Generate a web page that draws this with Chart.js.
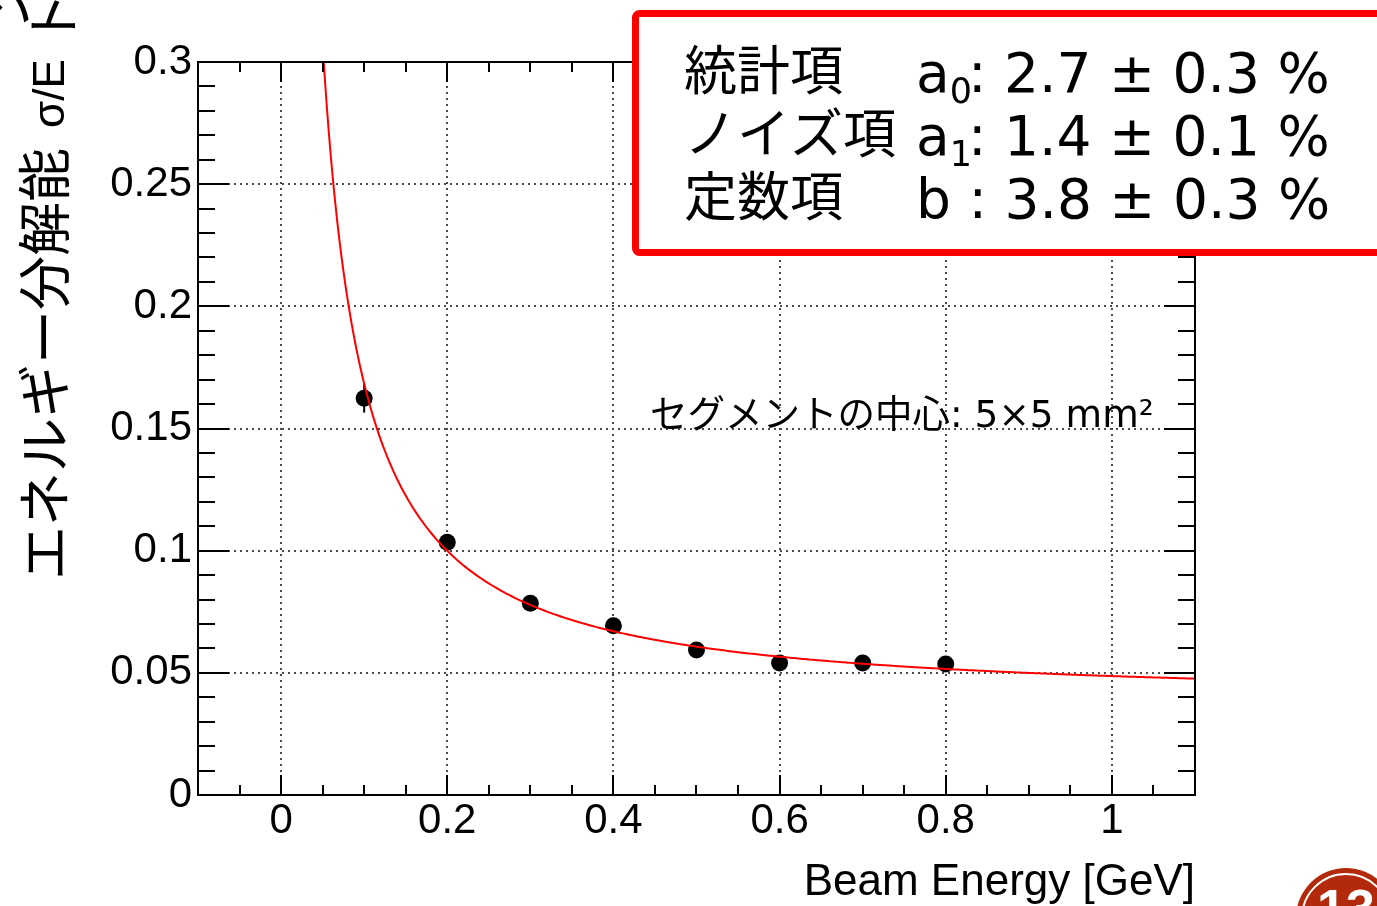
<!DOCTYPE html>
<html lang="ja">
<head>
<meta charset="utf-8">
<title>エネルギー分解能</title>
<script src="https://cdn.jsdelivr.net/npm/chart.js@4.4.1/dist/chart.umd.min.js"></script>
<style>
  html, body { margin: 0; padding: 0; background: #fff; }
  #wrap { width: 1377px; height: 906px; position: relative; overflow: hidden; }
  canvas { display: block; }
</style>
</head>
<body>
<div id="wrap"><canvas id="c" width="1377" height="906"></canvas></div>
<script>
// Measured energy resolution vs. beam energy
const energies      = [0.1, 0.2, 0.3, 0.4, 0.5, 0.6, 0.7, 0.8];          // GeV
const resolution    = [0.1624, 0.1034, 0.0785, 0.0693, 0.0593, 0.0540, 0.0540, 0.0536];
const resolutionErr = [0.0059, 0.0025, 0.0020, 0.0018, 0.0015, 0.0015, 0.0015, 0.0015];

// Fit parameters in percent: [value, error]
const statTerm  = [2.7, 0.3];   // a0 (stochastic)
const noiseTerm = [1.4, 0.1];   // a1 (noise)
const constTerm = [3.8, 0.3];   // b  (constant)

// Axis ticks
const xTickValues = [0, 0.2, 0.4, 0.6, 0.8, 1];
const xTickLabels = ['0', '0.2', '0.4', '0.6', '0.8', '1'];
const yTickValues = [0, 0.05, 0.1, 0.15, 0.2, 0.25, 0.3];
const yTickLabels = ['0', '0.05', '0.1', '0.15', '0.2', '0.25', '0.3'];

// Energies at which the fit function is evaluated
const fitEnergies = [];
for (let e = 0.045; e <= 1.1001; e += 0.0025) fitEnergies.push(+e.toFixed(4));

// sigma/E = sqrt( (a0/sqrt(E))^2 + (a1/E)^2 + b^2 )
function fitResolution(E) {
  const a0 = statTerm[0] / 100, a1 = noiseTerm[0] / 100, b = constTerm[0] / 100;
  return Math.sqrt(a0 * a0 / E + (a1 / E) * (a1 / E) + b * b);
}

const pointData = energies.map((e, i) => ({ x: e, y: resolution[i] }));
const curveData = fitEnergies.map(e => ({ x: e, y: fitResolution(e) }));

const LATIN = "'Liberation Sans', Arial, sans-serif";
const JP = "'Noto Sans CJK JP', sans-serif";
const BOX = "'DejaVu Sans', 'Noto Sans CJK JP', sans-serif";

function rotatedText(ctx, text, font, x, y) {
  ctx.save();
  ctx.translate(x, y);
  ctx.rotate(-Math.PI / 2);
  ctx.font = font;
  ctx.fillText(text, 0, 0);
  ctx.restore();
}

const decor = {
  id: 'decor',
  beforeDatasetsDraw(chart) {
    const { ctx, chartArea: a, scales: { x, y } } = chart;
    ctx.save();
    // dotted grid at major ticks
    ctx.strokeStyle = '#4a4a4a';
    ctx.lineWidth = 2;
    ctx.setLineDash([2, 4]);
    xTickValues.forEach(v => {
      const px = Math.round(x.getPixelForValue(v));
      ctx.beginPath(); ctx.moveTo(px, a.top); ctx.lineTo(px, a.bottom); ctx.stroke();
    });
    yTickValues.forEach(v => {
      if (v <= y.min || v >= y.max) return;
      const py = Math.round(y.getPixelForValue(v));
      ctx.beginPath(); ctx.moveTo(a.left, py); ctx.lineTo(a.right, py); ctx.stroke();
    });
    ctx.setLineDash([]);
    // error bars
    ctx.strokeStyle = '#000';
    ctx.lineWidth = 2;
    energies.forEach((e, i) => {
      const px = x.getPixelForValue(e);
      ctx.beginPath();
      ctx.moveTo(px, y.getPixelForValue(resolution[i] - resolutionErr[i]));
      ctx.lineTo(px, y.getPixelForValue(resolution[i] + resolutionErr[i]));
      ctx.stroke();
    });
    ctx.restore();
  },
  afterDatasetsDraw(chart) {
    const { ctx, chartArea: a, scales: { x, y } } = chart;
    ctx.save();
    ctx.strokeStyle = '#000';
    ctx.lineWidth = 2;
    ctx.strokeRect(a.left, a.top, a.right - a.left, a.bottom - a.top);
    ctx.beginPath();
    // x ticks every 0.05, long every 0.2
    for (let k = -2; k <= 22; k++) {
      const px = Math.round(x.getPixelForValue(k * 0.05));
      const len = (k % 4 === 0) ? 20 : 10;
      ctx.moveTo(px, a.bottom); ctx.lineTo(px, a.bottom - len);
      ctx.moveTo(px, a.top); ctx.lineTo(px, a.top + len);
    }
    // y ticks every 0.01, long every 0.05
    for (let k = 0; k <= 30; k++) {
      const py = Math.round(y.getPixelForValue(k * 0.01));
      const len = (k % 5 === 0) ? 31 : 17;
      ctx.moveTo(a.left, py); ctx.lineTo(a.left + len, py);
      ctx.moveTo(a.right, py); ctx.lineTo(a.right - len, py);
    }
    ctx.stroke();
    ctx.restore();
  },
  afterDraw(chart) {
    const { ctx } = chart;
    ctx.save();

    // annotation inside the plot
    ctx.fillStyle = '#000';
    ctx.textBaseline = 'alphabetic';
    ctx.textAlign = 'left';
    ctx.font = `37.5px ${BOX}`;
    ctx.fillText('セグメントの中心: 5×5 mm²', 650, 427);

    // fit result box
    ctx.fillStyle = '#fff';
    ctx.strokeStyle = '#ff0000';
    ctx.lineWidth = 7;
    ctx.beginPath();
    ctx.roundRect(635.5, 13.5, 820, 239, 4);
    ctx.fill();
    ctx.stroke();

    const rows = [
      { jp: '統計項',   sym: 'a', sub: '0', p: statTerm,  base: 92 },
      { jp: 'ノイズ項', sym: 'a', sub: '1', p: noiseTerm, base: 155 },
      { jp: '定数項',   sym: 'b', sub: '',  p: constTerm, base: 218 }
    ];
    ctx.fillStyle = '#000';
    rows.forEach(r => {
      ctx.font = `53px ${JP}`;
      ctx.fillText(r.jp, 684, r.base - 2);
      ctx.font = `55px ${BOX}`;
      let xx = 916;
      ctx.fillText(r.sym, xx, r.base);
      xx += ctx.measureText(r.sym).width;
      if (r.sub) {
        ctx.font = `35px ${BOX}`;
        ctx.fillText(r.sub, xx, r.base + 11);
        xx = 968;
      }
      ctx.font = `55px ${BOX}`;
      const rest = (r.sub ? ': ' : ' : ') + r.p[0].toFixed(1) + ' ± ' + r.p[1].toFixed(1) + ' %';
      ctx.fillText(rest, xx, r.base);
    });

    // y-axis title (rotated)
    rotatedText(ctx, 'エネルギー分解能', `54px ${JP}`, 65, 580);
    rotatedText(ctx, 'σ/E', `44px ${LATIN}`, 64, 128);

    // neighbouring vertical text, mostly off the page
    rotatedText(ctx, 'ト', `54px ${JP}`, 74, 46);
    rotatedText(ctx, 'ン', `54px ${JP}`, 28, 30);

    // page number badge
    ctx.fillStyle = '#b3290b';
    ctx.beginPath();
    ctx.arc(1346, 918, 50, 0, Math.PI * 2);
    ctx.fill();
    ctx.strokeStyle = '#fff';
    ctx.lineWidth = 2;
    ctx.beginPath();
    ctx.arc(1346, 918, 44, 0, Math.PI * 2);
    ctx.stroke();
    ctx.fillStyle = '#fff';
    ctx.font = `bold 52px ${LATIN}`;
    ctx.textAlign = 'center';
    ctx.fillText('13', 1346, 926);

    ctx.restore();
  }
};

new Chart(document.getElementById('c'), {
  type: 'scatter',
  data: {
    datasets: [
      {
        label: 'fit',
        data: curveData,
        showLine: true,
        borderColor: '#ff0000',
        borderWidth: 2,
        pointRadius: 0,
        tension: 0,
        order: 0
      },
      {
        label: 'data',
        data: pointData,
        backgroundColor: '#000',
        borderWidth: 0,
        pointRadius: 8.5,
        pointHoverRadius: 8.5,
        order: 1
      }
    ]
  },
  options: {
    responsive: false,
    animation: false,
    devicePixelRatio: 1,
    layout: { padding: { top: 62, right: 182, left: 0, bottom: 0 } },
    plugins: { legend: { display: false }, tooltip: { enabled: false } },
    scales: {
      x: {
        type: 'linear',
        min: -0.1,
        max: 1.1,
        afterBuildTicks: s => { s.ticks = xTickValues.map(v => ({ value: v })); },
        afterFit: s => { s.height = 111; },
        grid: { display: false, drawTicks: false },
        border: { display: false },
        ticks: {
          padding: 1,
          maxRotation: 0,
          autoSkip: false,
          color: '#000',
          font: { family: LATIN, size: 42 },
          callback: (v, i) => xTickLabels[i]
        },
        title: {
          display: true,
          text: 'Beam Energy [GeV]',
          align: 'end',
          color: '#000',
          font: { family: LATIN, size: 44 },
          padding: { top: 0, bottom: -3 }
        }
      },
      y: {
        type: 'linear',
        min: 0,
        max: 0.3,
        afterBuildTicks: s => { s.ticks = yTickValues.map(v => ({ value: v })); },
        afterFit: s => { s.width = 198; },
        grid: { display: false, drawTicks: false },
        border: { display: false },
        ticks: {
          padding: 6,
          autoSkip: false,
          color: '#000',
          font: { family: LATIN, size: 42 },
          callback: (v, i) => yTickLabels[i]
        }
      }
    }
  },
  plugins: [decor]
});
</script>
</body>
</html>
